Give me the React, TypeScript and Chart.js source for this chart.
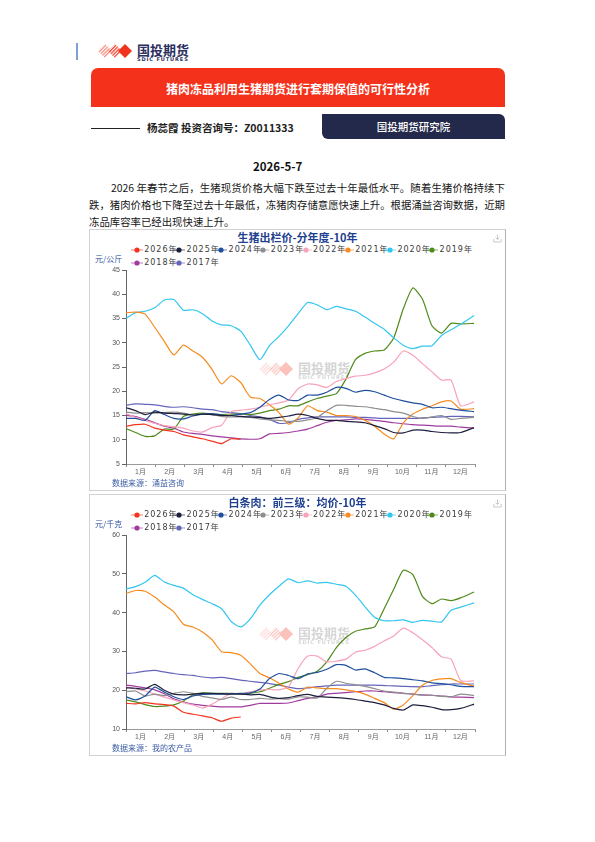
import React, { useEffect, useRef } from "react";
import { Chart, registerables } from "chart.js";

Chart.register(...registerables);

// ---------- data ----------
const DAYS = [0, 10, 20, 30, 40, 50, 60, 70, 80, 90, 100, 110, 120, 130, 140, 150, 160, 170, 180, 190, 200, 210, 220, 230, 240, 250, 260, 270, 280, 290, 300, 310, 320, 330, 340, 350, 364];
const MONTHS = ["1月", "2月", "3月", "4月", "5月", "6月", "7月", "8月", "9月", "10月", "11月", "12月"];
const YEARS = ["2026年", "2025年", "2024年", "2023年", "2022年", "2021年", "2020年", "2019年", "2018年", "2017年"];
const COLORS = ["#f2341f", "#1d1f3d", "#1f4f9e", "#8e8e8e", "#f7a3ba", "#f68b1f", "#33c6f0", "#4f8a1b", "#a03c9f", "#6464bb"];

// 生猪出栏价 (元/公斤)
const HOG_2026 = [12.8, 13.1, 13.2, 12.4, 12, 11.7, 11, 10.6, 10.2, 9.7, 9.2, 10.2, 10.1];
const HOG_2025 = [16.6, 16, 15.2, 15.7, 15.5, 15.4, 15.3, 15.1, 15.3, 15.2, 15, 15, 14.8, 14.7, 14.6, 14.4, 14.6, 14.9, 15.3, 15, 14.4, 14, 14, 13.8, 13.7, 13.5, 12.9, 12.3, 11.5, 11.4, 12, 12, 11.7, 11.5, 11.4, 11.5, 12.5];
const HOG_2024 = [14.4, 14.4, 14, 16, 15.2, 14.4, 14.3, 14.9, 15.3, 15.4, 15.1, 15, 15.3, 15.6, 16.7, 18.3, 19.2, 18.2, 18.1, 19.2, 19.2, 19.8, 20.8, 20.6, 19.8, 20.2, 19.9, 19.2, 18.5, 18, 17.6, 17.3, 16.6, 16.7, 16.4, 16.1, 15.8];
const HOG_2023 = [15.7, 15.5, 15.6, 15.5, 15.6, 15.7, 15.5, 15.1, 15.3, 15.2, 14.8, 14.7, 14.7, 14.6, 14.3, 14.1, 14, 13.8, 13.8, 14.1, 14.6, 16, 17.1, 17.1, 16.9, 16.8, 16.5, 16.2, 15.8, 15.5, 14.8, 14.4, 14.7, 15, 14.2, 14.4, 14.6];
const HOG_2022 = [15.4, 14.6, 14, 13.4, 12.9, 12.7, 12.4, 11.8, 11.6, 12.5, 13, 15.8, 16.1, 16.3, 16.7, 17.2, 17.6, 18.2, 20.5, 21.5, 21.3, 20.8, 22, 22.6, 23.1, 23.3, 23.8, 24.6, 26, 28.3, 27.4, 25.7, 24, 22.3, 22.3, 17, 17.8];
const HOG_2021 = [36.2, 36.3, 35.9, 33.2, 30.3, 27.5, 29.5, 28.3, 27, 24.5, 21.5, 23.2, 21.8, 18.8, 18.5, 17.2, 15.6, 13.2, 14.5, 17, 16, 15.7, 15, 15, 14.8, 14, 12.8, 11.2, 10.2, 13.5, 15.3, 16.3, 17, 17.8, 18, 16.3, 16.4];
const HOG_2020 = [35, 36.2, 36.5, 37.2, 38.8, 38.9, 36.7, 36.8, 36, 34.5, 33.7, 33.5, 32.4, 29.5, 26.5, 29.4, 31.3, 33.5, 36, 38.3, 37.8, 36.8, 37.5, 37, 36.5, 35.3, 34, 32.8, 31, 29.5, 28.8, 29.3, 29.4, 31.5, 32.7, 33.8, 35.6];
const HOG_2019 = [12.3, 11.5, 10.7, 10.8, 12.2, 12.2, 14.8, 15.3, 15.5, 15.3, 15.2, 15.3, 15.3, 15.2, 15.5, 16, 16.3, 17, 17, 17.8, 18.5, 19, 19.5, 22.5, 26.5, 27.8, 28.3, 28.5, 31, 37, 41.3, 39, 33.5, 32, 34, 33.9, 34];
const HOG_2018 = [15, 14.8, 14.2, 13.5, 12.8, 12.4, 11.6, 11.3, 11.1, 10.8, 10.6, 10.4, 10.2, 10.1, 10.2, 11.2, 11.3, 11.5, 11.8, 12.2, 12.9, 13.6, 14, 14.1, 14.3, 14.2, 14, 13.8, 13.5, 13.3, 13.1, 13, 12.9, 12.8, 12.8, 12.6, 12.4];
const HOG_2017 = [17.1, 17.4, 17.3, 17.2, 16.9, 16.7, 16.8, 16.6, 16.3, 16.2, 15.8, 15.6, 15.4, 15, 14.7, 14.2, 13.4, 13.5, 14.2, 14.5, 14.7, 14.7, 14.7, 14.7, 14.6, 14.6, 14.5, 14.4, 14.4, 14.4, 14.4, 14.5, 14.6, 14.7, 14.8, 14.8, 14.7];

// 白条肉：前三级：均价 (元/千克)
const PORK_2026 = [16.6, 16.5, 16.8, 16.5, 16.3, 15.9, 14.3, 13.8, 13.4, 12.9, 12, 12.8, 13.1];
const PORK_2025 = [20.6, 20.5, 20.3, 21.5, 20, 19, 18.8, 19, 19.2, 19.2, 19.1, 19, 19, 18.8, 18.9, 18.3, 17.9, 18.1, 18.6, 18.9, 18.4, 18.2, 18.1, 17.9, 17.6, 17.2, 16.8, 16.2, 15.3, 14.9, 16.2, 16, 15.6, 15, 15, 15.3, 16.4];
const PORK_2024 = [18.3, 17.5, 18.5, 20.8, 19.5, 18.3, 17.6, 18.5, 18.9, 19, 19, 19.1, 19.2, 19.3, 20.3, 23, 24.3, 23.8, 23, 24.2, 24.6, 25.4, 26.6, 26.4, 25.2, 25.5, 24.5, 23.3, 23.2, 23, 22.7, 22.4, 21.9, 21.7, 21.4, 21, 20.9];
const PORK_2023 = [19.6, 19.8, 18.5, 19, 18.6, 19.2, 19.6, 19.2, 18.4, 18, 17.6, 18.2, 17.6, 17.6, 17.9, 17.7, 17.8, 17.7, 18.3, 18.2, 18, 20.5, 22.3, 21.8, 21.4, 21, 20.4, 19.8, 19.5, 19.2, 19, 18.7, 18.7, 18.4, 18.3, 19, 18.6];
const PORK_2022 = [20.9, 20.3, 19.8, 19, 18.2, 17.5, 16.8, 16.2, 15.4, 16.4, 17.8, 19.2, 19, 19.6, 20, 20.2, 20.1, 20.9, 25.6, 28.8, 28.8, 27.3, 27.5, 28, 29.8, 30.3, 31.3, 32.7, 34, 36, 34.8, 33, 31, 28.6, 28, 22.5, 22.4];
const PORK_2021 = [44.9, 45.7, 45.5, 44, 42, 40.2, 37, 36.3, 35, 33, 29.9, 29.7, 29, 26.8, 24.3, 23.2, 21.8, 20.3, 19.5, 20.8, 20.6, 20.4, 20.4, 20.1, 19.7, 19, 17.9, 16.8, 15.1, 16.2, 18.6, 21.3, 22.5, 22.9, 23, 22, 21];
const PORK_2020 = [46.1, 46.7, 47.8, 49.6, 47.9, 47, 46.3, 44.6, 43.4, 42.3, 41, 37.7, 36.3, 38.4, 41.9, 44.6, 46.8, 48.7, 47.7, 48.2, 47.6, 47.8, 47.3, 46.8, 44.5, 41.5, 38.8, 37.9, 37.9, 38.1, 37.5, 38, 37.8, 37.6, 40.6, 41.4, 42.5];
const PORK_2019 = [17.5, 17, 16.3, 15.8, 15.9, 16.2, 17.2, 18.8, 19.3, 19.2, 19.2, 19.2, 19.1, 19.2, 19.6, 20.5, 21.5, 22.2, 23.3, 24, 24.9, 27.3, 31, 33.6, 35.2, 35.8, 36.3, 41, 46, 50.9, 49.8, 44.2, 42.3, 43.5, 43.1, 43.8, 45.3];
const PORK_2018 = [21.3, 21, 20.6, 20.1, 19.1, 17.8, 17, 16.4, 16.1, 15.9, 15.7, 15.7, 15.7, 16.1, 16.6, 16.6, 16.6, 16.7, 17.3, 17.9, 18.3, 19, 19.2, 19.4, 19.6, 19.8, 19.8, 19.6, 19.4, 19.2, 19, 18.8, 18.7, 18.5, 18.3, 18.2, 18.1];
const PORK_2017 = [24.3, 24.5, 24.9, 25.1, 24.7, 24.3, 24, 23.8, 23.4, 23.2, 23.3, 23, 22.6, 22.3, 22, 21.7, 21.3, 20.8, 20.4, 20.6, 20.9, 21.1, 21.3, 21.3, 21.3, 21.3, 21.3, 21.2, 21.1, 21, 20.9, 20.9, 21.2, 21.4, 21.6, 21.6, 21.6];

const HOG_SERIES = [HOG_2026, HOG_2025, HOG_2024, HOG_2023, HOG_2022, HOG_2021, HOG_2020, HOG_2019, HOG_2018, HOG_2017];
const PORK_SERIES = [PORK_2026, PORK_2025, PORK_2024, PORK_2023, PORK_2022, PORK_2021, PORK_2020, PORK_2019, PORK_2018, PORK_2017];

const CJK = "'Noto Sans CJK SC', 'Noto Sans', sans-serif";
const TICK_FONT = "'Liberation Sans', 'Noto Sans CJK SC', sans-serif";

// ---------- chart ----------
function LineChart(props: { series: number[][]; yMin: number; yMax: number; step: number; top: number }) {
  const ref = useRef<HTMLCanvasElement | null>(null);
  useEffect(() => {
    if (!ref.current) return;
    const datasets = props.series.map((vals, i) => ({
      label: YEARS[i],
      data: vals.map((v, j) => ({ x: DAYS[j], y: v })),
      borderColor: COLORS[i],
      backgroundColor: COLORS[i],
      borderWidth: 1.2,
      pointRadius: 0,
      tension: 0.2,
      xAxisID: "x",
      yAxisID: "y",
    }));
    const chart = new Chart(ref.current, {
      type: "line",
      data: { datasets },
      options: {
        responsive: false,
        maintainAspectRatio: false,
        animation: false,
        layout: { padding: { top: 8, right: 5, left: 0, bottom: 0 } },
        plugins: { legend: { display: false }, tooltip: { enabled: false } },
        scales: {
          x: { type: "linear", min: 0, max: 365, display: false },
          xm: {
            type: "category",
            labels: MONTHS,
            position: "bottom",
            offset: true,
            grid: { offset: true, drawOnChartArea: false, tickLength: 3, color: "#888" },
            border: { color: "#9a9a9a" },
            ticks: { font: { size: 7, family: TICK_FONT }, color: "#666", padding: 1, autoSkip: false, maxRotation: 0 },
            afterFit: (s: any) => { s.height = 14; },
          },
          y: {
            type: "linear",
            position: "left",
            min: props.yMin,
            max: props.yMax,
            ticks: { stepSize: props.step, font: { size: 7, family: TICK_FONT }, color: "#555", padding: 2 },
            grid: { drawOnChartArea: false, tickLength: 4, color: "#666" },
            border: { color: "#666" },
            afterFit: (s: any) => { s.width = 34; },
          },
        } as any,
      },
    } as any);
    return () => chart.destroy();
  }, []);
  return (
    <canvas
      ref={ref}
      width={388}
      height={216}
      style={{ position: "absolute", left: 92, top: props.top, width: 388, height: 216 }}
    />
  );
}

// ---------- decorations ----------
function Logo(props: { x: number; y: number; faded?: boolean; id: string }) {
  const f = props.faded;
  const op = f ? 0.3 : 1;
  return (
    <>
      <svg style={{ position: "absolute", left: props.x, top: props.y, opacity: op }} width={38} height={16}>
        <defs>
          <pattern id={props.id} width="2.4" height="2.4" patternUnits="userSpaceOnUse" patternTransform="rotate(45)">
            <rect width="1.3" height="2.4" fill="#f2341f" />
          </pattern>
        </defs>
        <polygon points="1,8 8,1 15,8 8,15" fill={`url(#${props.id})`} opacity={0.55} />
        <polygon points="11,8 18,1 25,8 18,15" fill={`url(#${props.id})`} opacity={0.9} />
        <polygon points="21,8 28,1 35,8 28,15" fill="#f2341f" />
      </svg>
      <div style={{ position: "absolute", left: props.x + 40, top: props.y - 1, fontFamily: CJK, fontWeight: 700, fontSize: 13, lineHeight: "15px", color: f ? "#b4b4b4" : "#2b2f5e", opacity: f ? 0.55 : 1, whiteSpace: "nowrap" }}>
        国投期货
      </div>
      <div style={{ position: "absolute", left: props.x + 40, top: props.y + 13.5, fontFamily: "'DejaVu Sans', sans-serif", fontWeight: 700, fontSize: 5, lineHeight: "5px", letterSpacing: 0.9, color: f ? "#b4b4b4" : "#2b2f5e", opacity: f ? 0.55 : 1, whiteSpace: "nowrap" }}>
        SDIC FUTURES
      </div>
    </>
  );
}

function LegendMarker(props: { color: string }) {
  return (
    <svg width={12} height={8} style={{ display: "block", flex: "none" }}>
      <line x1={0} y1={4} x2={12} y2={4} stroke={props.color} strokeWidth={1.2} opacity={0.55} />
      <circle cx={6} cy={4} r={2.6} fill={props.color} />
    </svg>
  );
}

function Legend(props: { top: number }) {
  return (
    <>
      {YEARS.map((y, i) => {
        const row = i < 8 ? 0 : 1;
        const col = i < 8 ? i : i - 8;
        return (
          <div
            key={y}
            style={{
              position: "absolute",
              left: 130.7 + col * 42.2,
              top: props.top + row * 12.5 - 5,
              height: 10,
              display: "flex",
              alignItems: "center",
              whiteSpace: "nowrap",
            }}
          >
            <LegendMarker color={COLORS[i]} />
            <span style={{ marginLeft: 1.5, fontFamily: "'DejaVu Sans', 'Noto Sans CJK SC', sans-serif", fontSize: 8, letterSpacing: 1, color: "#3a3a3a", lineHeight: "10px" }}>{y}</span>
          </div>
        );
      })}
    </>
  );
}

function DownloadIcon(props: { top: number }) {
  return (
    <svg width={9} height={9} style={{ position: "absolute", left: 493, top: props.top }}>
      <path d="M4.5 0.5 V5.5 M2.5 3.5 L4.5 5.5 L6.5 3.5" stroke="#c4c4c4" strokeWidth={0.9} fill="none" />
      <path d="M0.8 5 V8 H8.2 V5" stroke="#c4c4c4" strokeWidth={0.9} fill="none" />
    </svg>
  );
}

function ChartPanel(props: { top: number; title: string; unit: string; source: string; series: number[][]; yMin: number; yMax: number; step: number; id: string }) {
  const t = props.top; // box top
  return (
    <>
      <div style={{ position: "absolute", left: 89, top: t, width: 417, height: 262, boxSizing: "border-box", border: "1px solid #d2d2d2", borderRightColor: "#b0b0b0" }} />
      <DownloadIcon top={t + 5} />
      <div style={{ position: "absolute", left: 89, width: 417, top: t + 1, textAlign: "center", fontFamily: CJK, fontWeight: 700, fontSize: 11, lineHeight: "14px", color: "#1f3f8f", whiteSpace: "nowrap" }}>
        {props.title}
      </div>
      <Legend top={t + 21} />
      <div style={{ position: "absolute", left: 95, top: t + 25, fontFamily: CJK, fontSize: 8, lineHeight: "10px", color: "#2f4f9f", whiteSpace: "nowrap" }}>
        {props.unit}
      </div>
      <Logo x={258} y={t + 132} faded id={props.id + "wm"} />
      <LineChart series={props.series} yMin={props.yMin} yMax={props.yMax} step={props.step} top={t + 33} />
      <div style={{ position: "absolute", left: 112, top: t + 249, fontFamily: CJK, fontSize: 8, lineHeight: "10px", color: "#3b5ba5", whiteSpace: "nowrap" }}>
        {props.source}
      </div>
    </>
  );
}

const PARA_LINE_1 = "2026 年春节之后，生猪现货价格大幅下跌至过去十年最低水平。随着生猪价格持续下";
const PARA_LINE_2 = "跌，猪肉价格也下降至过去十年最低，冻猪肉存储意愿快速上升。根据涌益咨询数据，近期";
const PARA_LINE_3 = "冻品库容率已经出现快速上升。";

export default function App() {
  const paraStyle: React.CSSProperties = {
    position: "absolute",
    fontFamily: CJK,
    fontSize: 10.4,
    lineHeight: "17px",
    height: 17,
    color: "#151515",
    whiteSpace: "nowrap",
  };
  return (
    <div style={{ position: "absolute", left: 0, top: 0, width: 595, height: 842, background: "#fff", overflow: "hidden" }}>
      {/* header */}
      <div style={{ position: "absolute", left: 76, top: 43, width: 1.6, height: 17, background: "#7d9fd6" }} />
      <Logo x={97} y={43} id="hdr" />
      <div style={{ position: "absolute", left: 91, top: 68, width: 414, height: 39, background: "#f4311a", borderRadius: "7px 7px 0 0", textAlign: "center", color: "#fff", fontFamily: CJK, fontWeight: 700, fontSize: 12, lineHeight: "41px" }}>
        猪肉冻品利用生猪期货进行套期保值的可行性分析
      </div>
      <div style={{ position: "absolute", left: 91, top: 127.5, width: 49, height: 1.4, background: "#222" }} />
      <div style={{ position: "absolute", left: 147, top: 120, fontFamily: CJK, fontWeight: 700, fontSize: 10.5, lineHeight: "16px", color: "#222", whiteSpace: "nowrap" }}>
        杨蕊霞 投资咨询号：Z0011333
      </div>
      <div style={{ position: "absolute", left: 322, top: 114, width: 183, height: 25, background: "#23294a", borderRadius: "0 6px 0 6px", textAlign: "center", color: "#fff", fontFamily: CJK, fontWeight: 500, fontSize: 10.5, lineHeight: "26px" }}>
        国投期货研究院
      </div>

      {/* date */}
      <div style={{ position: "absolute", left: 253, top: 158, fontFamily: CJK, fontWeight: 700, fontSize: 11.5, lineHeight: "16px", color: "#111", whiteSpace: "nowrap" }}>
        2026-5-7
      </div>

      {/* paragraph */}
      <div style={{ ...paraStyle, left: 111, top: 178.5, width: 394, textAlign: "justify", textAlignLast: "justify" as any }}>{PARA_LINE_1}</div>
      <div style={{ ...paraStyle, left: 89, top: 195.5, width: 416, textAlign: "justify", textAlignLast: "justify" as any }}>{PARA_LINE_2}</div>
      <div style={{ ...paraStyle, left: 89, top: 212.5 }}>{PARA_LINE_3}</div>

      <ChartPanel top={229} title="生猪出栏价-分年度-10年" unit="元/公斤" source="数据来源：涌益咨询" series={HOG_SERIES} yMin={5} yMax={45} step={5} id="c1" />
      <ChartPanel top={494} title="白条肉：前三级：均价-10年" unit="元/千克" source="数据来源：我的农产品" series={PORK_SERIES} yMin={10} yMax={60} step={10} id="c2" />
    </div>
  );
}
